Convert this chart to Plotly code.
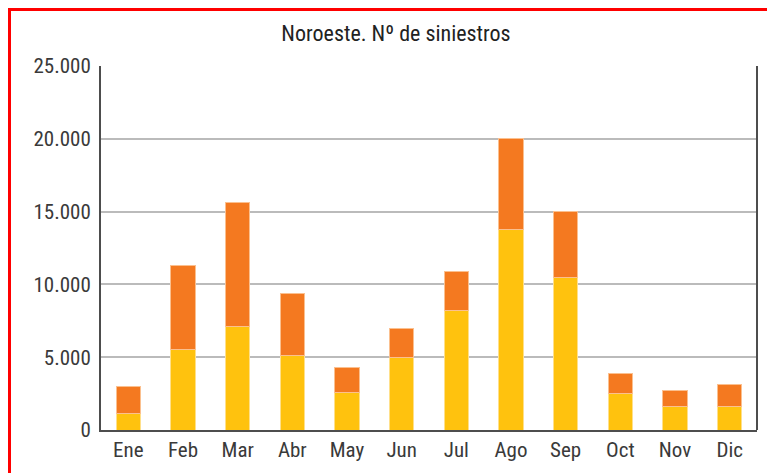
import plotly.graph_objects as go

months = ["Ene", "Feb", "Mar", "Abr", "May", "Jun", "Jul", "Ago", "Sep", "Oct", "Nov", "Dic"]
base_values = [1100, 5500, 7100, 5100, 2550, 5000, 8200, 13800, 10500, 2500, 1600, 1600]
top_values = [1900, 5800, 8500, 4300, 1750, 1950, 2700, 6200, 4500, 1400, 1100, 1550]
y_tick_vals = [0, 5000, 10000, 15000, 20000, 25000]
y_tick_text = ["0", "5.000", "10.000", "15.000", "20.000", "25.000"]
title_text = "Noroeste. Nº de siniestros"

FONT = "Roboto Condensed, Liberation Sans Narrow, Roboto, sans-serif"

# page has an 8px body margin; work in screenshot coords and offset
OFF = 8
W, H = 775, 473
L, R, T, B = 101 - OFF, 757 - OFF, 66 - OFF, 430 - OFF

def px(x):
    return (x - OFF - L) / (R - L)

def py(y):
    return (B - (y - OFF)) / (B - T)

fig = go.Figure()
fig.add_trace(go.Bar(x=months, y=base_values, marker=dict(color="#FFC20E", line=dict(color="#FFE08A", width=1)), showlegend=False))
fig.add_trace(go.Bar(x=months, y=top_values, marker=dict(color="#F47920", line=dict(color="#FBC08F", width=1)), showlegend=False))

fig.update_layout(
    barmode="stack",
    bargap=0.56,
    width=W, height=H,
    margin=dict(l=L, r=W - R, t=T, b=H - B),
    paper_bgcolor="white",
    plot_bgcolor="white",
    title=dict(text=title_text, x=(396 - OFF) / W, xanchor="center", y=1 - (33 - OFF) / H, yanchor="middle",
               font=dict(family=FONT, size=22, color="#222222")),
    xaxis=dict(showgrid=False, showline=True, linecolor="#4D4D4D", linewidth=2, mirror=False,
               ticks="", tickfont=dict(family=FONT, size=21, color="#3A3A3A")),
    yaxis=dict(range=[0, 25000], tickvals=y_tick_vals, ticktext=y_tick_text,
               showgrid=True, gridcolor="#BBBBBB", gridwidth=1.5,
               showline=True, linecolor="#4D4D4D", linewidth=2, zeroline=False,
               ticks="", ticklabelstandoff=4,
               tickfont=dict(family=FONT, size=21, color="#3A3A3A")),
    shapes=[
        dict(type="line", xref="paper", yref="paper", x0=1, x1=1, y0=0, y1=1,
             line=dict(color="#4D4D4D", width=2)),
        dict(type="line", xref="paper", yref="paper", x0=px(9.5), x1=px(9.5), y0=py(8), y1=py(480),
             line=dict(color="#FF0000", width=3)),
        dict(type="line", xref="paper", yref="paper", x0=px(8), x1=px(790), y0=py(9.5), y1=py(9.5),
             line=dict(color="#FF0000", width=3)),
    ],
)

fig.write_html("out.html")
